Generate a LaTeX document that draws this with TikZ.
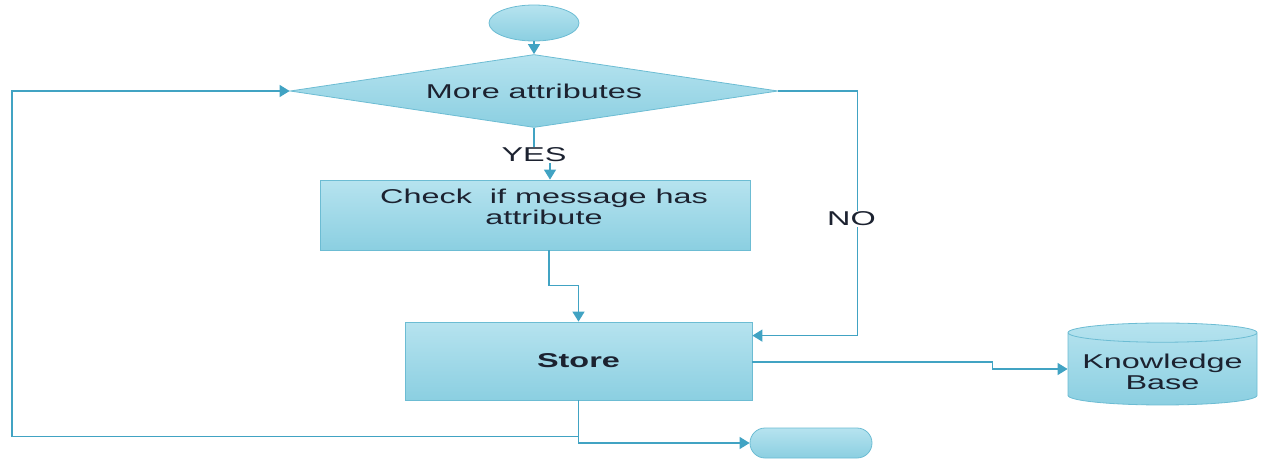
\documentclass[tikz,border=0pt]{standalone}
\usepackage{fontspec}
\setmainfont{Liberation Sans}
\usetikzlibrary{shapes.geometric,shapes.misc,arrows.meta}
\definecolor{boxtop}{HTML}{B6E3EF}
\definecolor{boxbot}{HTML}{8BCFE1}
\definecolor{boxline}{HTML}{6CBCD3}
\definecolor{wire}{HTML}{41A3C3}
\definecolor{ink}{HTML}{1C2230}
% wide lettering used throughout the chart
\newcommand{\wtext}[1]{\scalebox{1.62}[1]{#1}}

\begin{document}
\begin{tikzpicture}[x=1pt,y=-1pt,
  shapebase/.style={draw=boxline,line width=0.8pt,top color=boxtop,bottom color=boxbot,
    inner sep=0pt,text=ink,font=\fontsize{20}{22}\selectfont},
  arrow/.style={draw=wire,line width=1.5pt,-{Triangle[length=10pt,width=12pt]}},
  plain/.style={draw=wire,line width=1.5pt},
  lbl/.style={fill=white,inner sep=1pt,text=ink,font=\fontsize{20}{22}\selectfont}]

\useasboundingbox (0,0) rectangle (1267,461);

% shapes
\node[shapebase,ellipse,minimum width=90pt,minimum height=36pt] (start) at (534,23) {};
\node[shapebase,diamond,aspect=6.7,minimum width=488pt,minimum height=73pt] (cond) at (534,91) {\wtext{More attributes}};
\node[shapebase,rectangle,minimum width=430pt,minimum height=70pt] (check) at (535,215)
  {\hspace*{18pt}\raisebox{5pt}[\height][\depth]{\wtext{\begin{tabular}{@{}c@{}}Check\ \ if message has\\[-1pt]attribute\end{tabular}}}};
\node[shapebase,rectangle,minimum width=347pt,minimum height=78pt] (store) at (578.5,361) {\wtext{\textbf{Store}}};
\node[shapebase,cylinder,shape border rotate=90,aspect=0.12,minimum width=189pt,minimum height=82pt] (kb) at (1162.5,369)
  {\raisebox{-6pt}[\height][\depth]{\wtext{\begin{tabular}{@{}c@{}}Knowledge\\[-1pt]Base\end{tabular}}}};
\node[shapebase,rounded rectangle,minimum width=122pt,minimum height=30pt] (stop) at (811,443) {};

\node[lbl] (yes) at (534,155) {\wtext{YES}};
\coordinate (cin) at ([xshift=15pt]check.north);

% connectors
\draw[arrow] (start.south) -- (cond.north);
\draw[plain] (cond.south) -- (yes.north);
\draw[arrow] (yes.south -| cin) -- (cin);
\draw[arrow] ([xshift=14pt]check.south) -- ++(0,35) -| (store.north);
\draw[arrow] (cond.east) -- ++(79,0) -- ++(0,128) node[lbl,xshift=-6pt] {\wtext{NO}} |- ([yshift=-14pt]store.north east);
\draw[arrow] ([yshift=-1pt]store.east) -- ++(240,0) |- (kb.west);
\draw[arrow] (store.south) |- (stop.west);
\draw[arrow] (store.south) -- ++(0,36) -| (12,91) -- (cond.west);
\end{tikzpicture}
\end{document}
